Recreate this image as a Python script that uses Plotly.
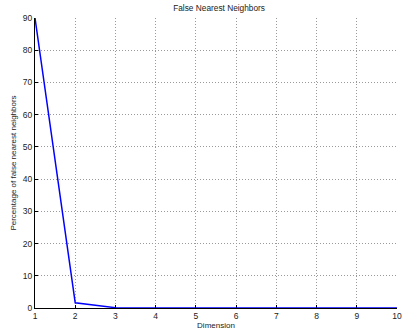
import plotly.graph_objects as go

# False nearest neighbour percentages per embedding dimension
dimension = [1, 2, 3, 4, 5, 6, 7, 8, 9, 10]
fnn_percent = [90, 1.6, 0.1, 0, 0, 0, 0, 0, 0, 0]

x_ticks = list(range(1, 11))
y_ticks = list(range(0, 91, 10))

font_family = "Liberation Sans, Arial, sans-serif"

fig = go.Figure()
fig.add_trace(go.Scatter(
    x=dimension,
    y=fnn_percent,
    mode="lines",
    line=dict(color="#0000FF", width=1.5),
    cliponaxis=False,
    showlegend=False,
))

axis_common = dict(
    showgrid=True,
    gridcolor="#9a9a9a",
    griddash="1px,2px",
    gridwidth=1,
    showline=True,
    linecolor="black",
    linewidth=1,
    ticks="inside",
    ticklen=3,
    tickcolor="black",
    tickfont=dict(family=font_family, size=8.5, color="#222222"),
    ticklabeloverflow="allow",
    zeroline=False,
    layer="below traces",
)

fig.update_layout(
    width=402,
    height=332,
    margin=dict(l=35, r=0, t=18, b=24),
    paper_bgcolor="white",
    plot_bgcolor="white",
    title=dict(
        text="False Nearest Neighbors",
        x=0.545, xanchor="center",
        y=1 - 8 / 332, yanchor="middle",
        font=dict(family=font_family, size=8.3, color="#222222"),
    ),
    xaxis=dict(
        range=[1, 10],
        tickvals=x_ticks,
        title=dict(text="Dimension", standoff=1,
                   font=dict(family=font_family, size=8, color="#222222")),
        **axis_common,
    ),
    yaxis=dict(
        range=[0, 90],
        tickvals=y_ticks,
        title=dict(text="Percentage of false nearest neighbors", standoff=5,
                   font=dict(family=font_family, size=8, color="#222222")),
        **axis_common,
    ),
)

fig.write_html("out.html")
